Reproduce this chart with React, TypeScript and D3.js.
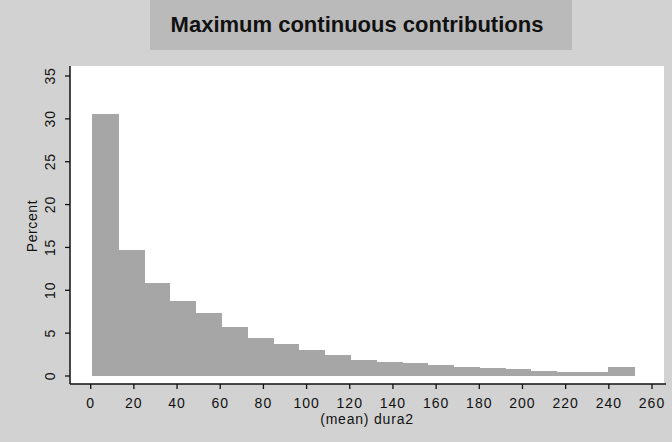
import React, { useEffect } from "react";
import * as d3 from "d3";

// Histogram of (mean) dura2: percent of observations per bin
const binStart = 0.8;
const binWidth = 11.95;
const percents = [
  30.6, 14.7, 10.8, 8.7, 7.3, 5.7, 4.4, 3.7, 3.0, 2.5, 1.9,
  1.6, 1.5, 1.3, 1.0, 0.9, 0.85, 0.6, 0.5, 0.5, 1.1,
];
const xTicks = [0, 20, 40, 60, 80, 100, 120, 140, 160, 180, 200, 220, 240, 260];
const yTicks = [0, 5, 10, 15, 20, 25, 30, 35];

const title = "Maximum continuous contributions";
const xTitle = "(mean) dura2";
const yTitle = "Percent";

const W = 672;
const H = 442;
const FONT = "'Liberation Sans', Arial, Helvetica, sans-serif";

export default function App() {
  useEffect(() => {
    document.body.style.margin = "0";
  }, []);

  const x = d3.scaleLinear().domain([0, 260]).range([90.7, 652]);
  const y = d3.scaleLinear().domain([0, 35]).range([376, 76]);

  const plotLeft = 70;
  const plotRight = 664;
  const plotTop = 66;
  const axisY = 384;

  const bins = percents.map((v, i) => ({
    x0: binStart + i * binWidth,
    x1: binStart + (i + 1) * binWidth,
    v,
  }));

  return (
    <svg width={W} height={H} style={{ display: "block" }} fontFamily={FONT}>
      <rect x={0} y={0} width={W} height={H} fill="#d2d2d2" />
      {/* title band */}
      <rect x={150} y={0} width={422} height={50} fill="#bababa" />
      <text
        x={357}
        y={32}
        textAnchor="middle"
        fontSize={22}
        fontWeight="bold"
        fill="#111"
      >
        {title}
      </text>

      {/* plot region */}
      <rect
        x={plotLeft}
        y={plotTop}
        width={plotRight - plotLeft}
        height={axisY - plotTop}
        fill="#ffffff"
      />

      {/* bars */}
      <g shapeRendering="crispEdges">
        {bins.map((b, i) => (
          <rect
            key={i}
            x={x(b.x0)}
            y={y(b.v)}
            width={x(b.x1) - x(b.x0) + 0.5}
            height={y(0) - y(b.v)}
            fill="#a6a6a6"
          />
        ))}
      </g>

      {/* y axis */}
      <line x1={plotLeft} x2={plotLeft} y1={plotTop} y2={axisY} stroke="#111" strokeWidth={1.5} />
      {yTicks.map((t) => (
        <g key={t}>
          <line x1={plotLeft - 5} x2={plotLeft} y1={y(t)} y2={y(t)} stroke="#111" strokeWidth={1.3} />
          <text
            transform={`translate(55,${y(t)}) rotate(-90)`}
            textAnchor="middle"
            fontSize={14}
            letterSpacing={0.8}
            fill="#111"
          >
            {t}
          </text>
        </g>
      ))}
      <text
        transform={`translate(37,${(y(0) + y(35)) / 2}) rotate(-90)`}
        textAnchor="middle"
        fontSize={14}
        letterSpacing={0.6}
        fill="#111"
      >
        {yTitle}
      </text>

      {/* x axis */}
      <line x1={plotLeft} x2={plotRight + 2} y1={axisY} y2={axisY} stroke="#111" strokeWidth={1.5} />
      {xTicks.map((t) => (
        <g key={t}>
          <line x1={x(t)} x2={x(t)} y1={axisY} y2={axisY + 5} stroke="#111" strokeWidth={1.3} />
          <text x={x(t)} y={408} textAnchor="middle" fontSize={14} letterSpacing={1} fill="#111">
            {t}
          </text>
        </g>
      ))}
      <text
        x={(plotLeft + plotRight) / 2}
        y={424}
        textAnchor="middle"
        fontSize={14}
        letterSpacing={0.8}
        fill="#111"
      >
        {xTitle}
      </text>
    </svg>
  );
}
